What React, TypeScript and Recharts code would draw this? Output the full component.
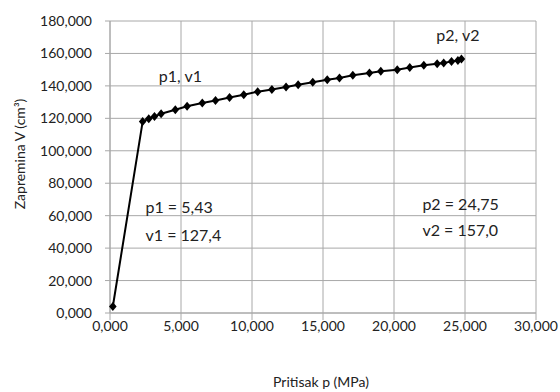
import React from 'react';
import { LineChart, Line, XAxis, YAxis, CartesianGrid, ReferenceDot } from 'recharts';

const pressure = [0.2, 2.3, 2.73, 3.13, 3.6, 4.6, 5.43, 6.5, 7.43, 8.42, 9.42, 10.4, 11.4, 12.4, 13.25, 14.28, 15.3, 16.16, 17.1, 18.27, 19.07, 20.23, 21.11, 22.1, 23.04, 23.5, 24.05, 24.5, 24.75];
const volume = [4, 118, 119.8, 121.2, 122.8, 125.3, 127.4, 129.4, 131, 132.9, 134.6, 136.4, 137.8, 139.3, 140.7, 142.2, 143.8, 144.9, 146.5, 148, 149, 150, 151.4, 152.7, 153.7, 154.1, 155.1, 155.6, 156.6];
const xTicks = [0, 5, 10, 15, 20, 25, 30];
const yTicks = [0, 20, 40, 60, 80, 100, 120, 140, 160, 180];

const annotations = [
  { p: 4.96, v: 146.3, text: 'p1, v1', anchor: 'middle' },
  { p: 24.5, v: 171.6, text: 'p2, v2', anchor: 'middle' },
  { p: 2.5, v: 65.6, text: 'p1 = 5,43', anchor: 'start' },
  { p: 2.5, v: 48.6, text: 'v1 = 127,4', anchor: 'start' },
  { p: 22.0, v: 67.7, text: 'p2 = 24,75', anchor: 'start' },
  { p: 22.0, v: 51.2, text: 'v2 = 157,0', anchor: 'start' },
];

const data = pressure.map((p, i) => ({ p, v: volume[i] }));

const fmt = (n: number) => n.toFixed(3).replace('.', ',').replace(/\B(?=(\d{3})+(?!\d))/g, '');
const fmtY = (n: number) => {
  const s = n.toFixed(3).replace('.', ',');
  return s;
};

const Diamond = (props: any) => {
  const { cx, cy } = props;
  if (cx == null || cy == null) return null;
  const w = 3.8, h = 4.5;
  return <polygon points={`${cx},${cy - h} ${cx + w},${cy} ${cx},${cy + h} ${cx - w},${cy}`} fill="#000" stroke="none" />;
};

const FONT = 'Lato, "DejaVu Sans", sans-serif';

export default function App() {
  return (
    <div style={{ position: 'absolute', left: 0, top: 0, width: 560, height: 392, background: '#fff' }}>
      <LineChart width={560} height={392} data={data} margin={{ top: 21, right: 24, left: 0, bottom: 49 }} style={{ fontFamily: FONT }}>
        <CartesianGrid stroke="#a8a8a8" strokeWidth={1} />
        <XAxis
          type="number"
          dataKey="p"
          domain={[0, 30]}
          ticks={xTicks}
          tickFormatter={(n: number) => fmt(n)}
          stroke="#a8a8a8"
          tickSize={7}
          tickMargin={1}
          height={30}
          tick={{ fill: '#222', fontSize: 14, fontFamily: FONT }}
          label={{
            content: () => (
              <text x={321} y={381} textAnchor="middle" dominantBaseline="central" fontSize={14} fill="#222" fontFamily={FONT}>
                Pritisak p (MPa)
              </text>
            ),
          }}
        />
        <YAxis
          type="number"
          domain={[0, 180]}
          ticks={yTicks}
          tickFormatter={(n: number) => fmtY(n)}
          stroke="#a8a8a8"
          tickSize={5}
          tickMargin={13}
          width={110}
          tick={{ fill: '#222', fontSize: 14, fontFamily: FONT }}
          label={{
            content: () => (
              <text x={19} y={154} transform="rotate(-90, 19, 154)" textAnchor="middle" dominantBaseline="central" fontSize={14} fill="#222" fontFamily={FONT}>
                Zapremina V (cm³)
              </text>
            ),
          }}
        />
        <Line type="linear" dataKey="v" stroke="#000" strokeWidth={2} dot={<Diamond />} activeDot={false} isAnimationActive={false} />
        {annotations.map((a, i) => (
          <ReferenceDot
            key={i}
            x={a.p}
            y={a.v}
            r={1}
            fill="none"
            stroke="none"
            label={{
              content: (props: any) => {
                const vb = props.viewBox || {};
                const x = (vb.x ?? 0) + (vb.width ?? 0) / 2;
                const y = (vb.y ?? 0) + (vb.height ?? 0) / 2;
                return (
                  <text x={x} y={y} textAnchor={a.anchor} dominantBaseline="central" fontSize={16} fill="#222" fontFamily={FONT}>
                    {a.text}
                  </text>
                );
              },
            }}
          />
        ))}
      </LineChart>
    </div>
  );
}
